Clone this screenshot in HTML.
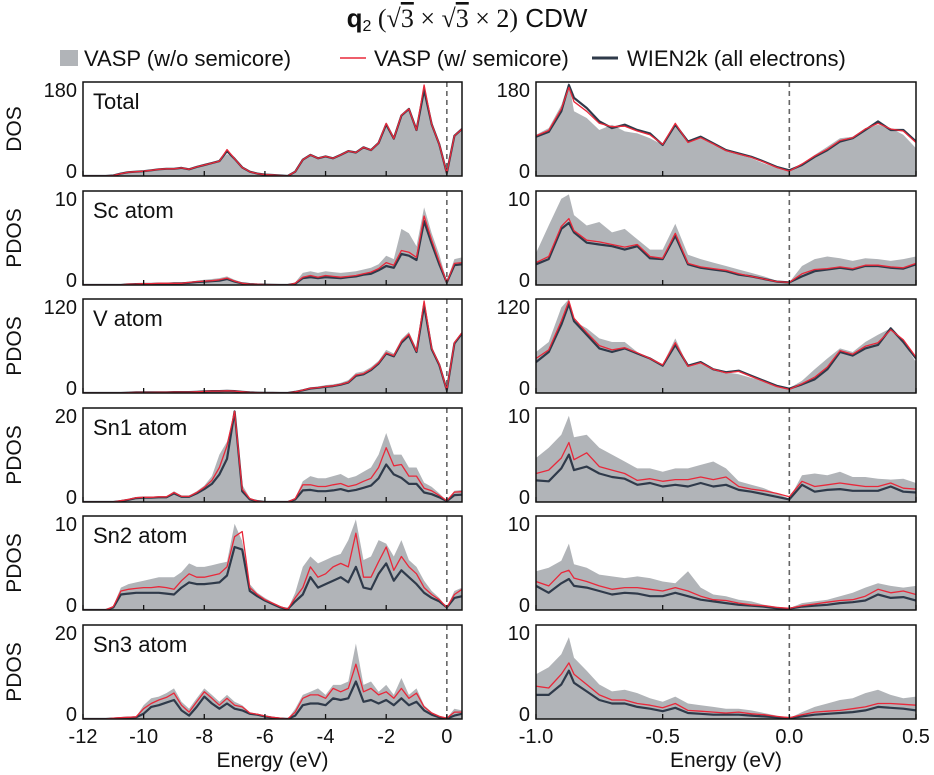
<!DOCTYPE html>
<html><head><meta charset="utf-8"><style>
html,body{margin:0;padding:0;background:#fff;}
svg{display:block;font-family:"Liberation Sans",Arial,sans-serif;}
</style></head><body>
<svg id="chart" width="934" height="775" viewBox="0 0 934 775" xmlns="http://www.w3.org/2000/svg">
<g>
<text x="467" y="27" text-anchor="middle" font-size="26" fill="#111"><tspan font-weight="bold">q</tspan><tspan font-size="16" dy="4">2</tspan><tspan dy="-4" font-family="Liberation Serif,serif"> (√</tspan><tspan font-family="Liberation Serif,serif" text-decoration="overline">3</tspan><tspan font-family="Liberation Serif,serif"> × √</tspan><tspan font-family="Liberation Serif,serif" text-decoration="overline">3</tspan><tspan font-family="Liberation Serif,serif"> × 2)</tspan> CDW</text>
</g>
<g>
<g><rect x="60" y="50" width="18" height="16" fill="#b1b4b8"/><text x="84" y="66" font-size="22" fill="#111">VASP (w/o semicore)</text></g>
<g><line x1="340" y1="58" x2="366" y2="58" stroke="#e8283a" stroke-width="1.5"/><text x="374" y="66" font-size="22" fill="#111">VASP (w/ semicore)</text></g>
<g><line x1="592" y1="58" x2="618" y2="58" stroke="#2f3a4a" stroke-width="3"/><text x="627" y="66" font-size="22" fill="#111">WIEN2k (all electrons)</text></g>
</g>
<g id="panels"></g>
</svg>
<script>
// ---------- data ----------
const leftE = [-12,-11.75,-11.5,-11.25,-11,-10.75,-10.5,-10.25,-10,-9.75,-9.5,-9.25,-9,-8.75,-8.5,-8.25,-8,-7.75,-7.5,-7.25,-7,-6.75,-6.5,-6.25,-6,-5.75,-5.5,-5.25,-5,-4.75,-4.5,-4.25,-4,-3.75,-3.5,-3.25,-3,-2.75,-2.5,-2.25,-2,-1.75,-1.5,-1.25,-1,-0.75,-0.5,-0.25,0,0.25,0.5];
const rightE = [-1,-0.95,-0.9,-0.87,-0.85,-0.8,-0.75,-0.7,-0.65,-0.6,-0.55,-0.5,-0.45,-0.4,-0.35,-0.3,-0.25,-0.2,-0.15,-0.1,-0.05,0,0.05,0.1,0.15,0.2,0.25,0.3,0.35,0.4,0.45,0.5];
const leftTicks = [-12,-10,-8,-6,-4,-2,0];
const rightTicks = [-1.0,-0.5,0.0,0.5];
const rowLabels = ["Total","Sc atom","V atom","Sn1 atom","Sn2 atom","Sn3 atom"];
const rowAxisTitles = ["DOS","PDOS","PDOS","PDOS","PDOS","PDOS"];
const leftYTicks = [180,10,120,20,10,20];
const rightYTicks = [180,10,120,10,10,10];

const totLGray = [0,0,0,0,1,6,8,9,11,13,14,15,16,18,14,20,24,28,32,46,38,20,10,5,4,2,1,0,10,35,45,38,42,38,45,52,50,60,55,70,105,80,125,140,100,170,110,70,8,85,95];
const totLRed  = [0,0,0,0,1,5,8,9,10,12,14,15,15,17,14,19,23,27,31,55,36,18,9,5,3,2,1,0,9,34,44,37,41,37,44,52,49,60,54,69,110,78,127,140,96,190,108,66,6,84,98];
const totLDark = [0,0,0,0,1,5,8,9,10,12,14,15,15,17,14,19,23,27,31,52,36,18,9,5,3,2,1,0,9,34,44,37,41,37,44,52,49,60,54,69,108,78,126,140,96,180,108,66,6,84,98];
const scLGray = [0,0,0,0,0,0,0.1,0.15,0.2,0.2,0.25,0.25,0.3,0.3,0.4,0.5,0.6,0.7,0.8,1.0,0.6,0.3,0.15,0.1,0.05,0.02,0,0,0.3,1.4,1.6,1.4,1.6,1.5,1.4,1.5,1.6,1.8,2.0,2.4,3.4,3.0,6.5,6.0,4.5,9.0,6.0,3.5,0.5,3.0,3.2];
const scLRed  = [0,0,0,0,0,0,0.1,0.12,0.15,0.15,0.2,0.2,0.2,0.2,0.3,0.4,0.45,0.5,0.6,0.8,0.45,0.2,0.1,0.08,0.04,0.02,0,0,0.2,0.9,1.1,0.9,1.1,1.0,0.9,1.0,1.1,1.3,1.5,1.9,2.6,2.3,4.0,3.8,3.2,8.0,5.2,2.7,0.3,2.5,2.6];
const scLDark = [0,0,0,0,0,0,0.08,0.1,0.12,0.12,0.15,0.15,0.18,0.18,0.25,0.35,0.4,0.45,0.5,0.7,0.4,0.18,0.1,0.06,0.03,0.01,0,0,0.15,0.8,0.9,0.8,0.9,0.85,0.8,0.9,1.0,1.2,1.3,1.7,2.2,2.0,3.6,3.4,2.9,7.4,4.8,2.4,0.3,2.3,2.4];
const vLGray = [0,0,0,0,0,0,0.5,1,1,1,1.2,1.2,1.5,1.5,1.5,2,2.5,3,3,3.5,3,2,1,0.5,0.3,0.2,0,0,2,5,8,9,11,12,14,18,28,30,36,45,60,55,75,85,62,120,65,42,5,72,82];
const vLRed  = [0,0,0,0,0,0,0.4,0.8,0.8,0.8,1,1,1.2,1.2,1.3,1.7,2.2,2.6,2.6,3,2.6,1.7,0.8,0.4,0.2,0.1,0,0,1.6,4,6.5,7.5,9,10,12,15,25,27,33,42,56,52,72,82,58,128,62,40,4,70,84];
const vLDark = [0,0,0,0,0,0,0.4,0.8,0.8,0.8,1,1,1.2,1.2,1.3,1.7,2.2,2.6,2.6,3,2.6,1.7,0.8,0.4,0.2,0.1,0,0,1.5,3.8,6.2,7.2,8.6,9.6,11.5,14.5,24,26,32,41,55,51,70,80,57,122,61,39,4,69,83];
const sn1LGray = [0,0,0,0,0,0.3,0.6,1.0,1.2,1.2,1.3,1.3,2.5,1.5,1.5,2.5,3.8,6,11,14,21,4,1,0.3,0,0,0,0,1,4.8,6,5.5,5.5,6,6.5,5.5,6,7,8,11,16,11,11,8,8,4.5,3.5,2,0.3,2.6,2.8];
const sn1LRed  = [0,0,0,0,0,0.3,0.6,1.0,1.1,1.1,1.2,1.2,2.2,1.3,1.3,2.2,3.4,5,8,13,21,3,0.8,0.2,0,0,0,0,0.8,4,4,3.6,3.6,4,4.3,3.6,4,4.8,5.5,8,12.6,8.4,8.7,6,6,3.2,2.6,1.5,0.3,2.3,2.4];
const sn1LDark = [0,0,0,0,0,0.2,0.5,0.9,1.0,1.0,1.1,1.1,2.0,1.2,1.2,2.0,3.0,4.2,6.4,10,21,2.5,0.6,0.2,0,0,0,0,0.6,2.7,2.8,2.5,2.5,2.7,3,2.5,2.8,3.3,3.8,5.5,8.7,6.4,5.6,4.2,4.2,2.2,1.8,1.1,0.2,1.6,1.7];
const sn2LGray = [0,0,0,0,0.5,2.6,3.0,3.2,3.4,3.6,3.8,3.8,3.8,4.4,5.4,5.0,5.0,5.2,5.4,5.6,10,8,3,2,1.4,0.9,0.5,0.1,2,5,6.2,5.4,5.8,6.2,6.5,8.1,10.5,5.8,6.2,8.1,7.7,6.2,8.1,5.8,5.0,3.4,2.2,1.4,0.3,2.2,2.6];
const sn2LRed  = [0,0,0,0,0.4,2.2,2.4,2.5,2.6,2.6,2.7,2.6,2.4,3.4,4.2,3.8,3.8,4.0,4.2,5.0,8.5,9.1,2.6,1.8,1.2,0.8,0.4,0.1,1.4,2.6,5.0,3.8,4.2,5.0,5.4,5.0,8.9,3.8,3.8,5.6,7.3,4.6,6.2,5.0,4.2,2.6,1.8,1.2,0.3,1.8,2.4];
const sn2LDark = [0,0,0,0,0.3,1.8,1.9,2.0,2.0,2.0,2.0,1.9,1.8,2.6,3.2,3.0,3.0,3.1,3.2,4.0,7.3,7.0,2.2,1.6,1.1,0.7,0.3,0.1,1.0,1.8,3.8,2.6,3.0,3.4,3.8,3.2,5.0,2.6,2.4,4.2,5.4,3.4,4.6,3.8,3.0,2.0,1.4,1.0,0.3,1.4,1.6];
const sn3LGray = [0,0,0,0,0.2,0.3,0.4,0.5,3.2,4.8,5.2,6,7.1,4,2.4,4.8,7.1,5.6,4,5.6,4,3.2,1.6,1.2,0.8,0.5,0.2,0,2.4,5.6,6.3,7.1,5.6,7.9,7.9,8.7,17.5,7.9,8.7,6.3,7.9,5.6,9.5,5.6,7.1,3.2,1.6,0.8,0.2,2.4,2.0];
const sn3LRed  = [0,0,0,0,0.2,0.3,0.4,0.5,2.4,3.6,4.4,5,6,3.2,1.6,4,6.3,4.8,3.2,4.8,3.2,2.8,1.4,1.1,0.7,0.4,0.2,0,1.6,4.8,5.6,5.6,4.8,7.1,6.3,7.1,12.7,6.3,7.1,5.6,6.3,4.8,7.1,4.8,6,2.8,1.4,0.6,0.2,1.6,1.6];
const sn3LDark = [0,0,0,0,0.1,0.2,0.3,0.4,1.2,2.8,3.2,3.8,4.4,2,0.8,2.8,5.2,3.6,2.4,3.6,2.4,2,1.2,1,0.6,0.3,0.1,0,0.8,3.2,3.6,3.6,3.2,4.8,4.4,4.8,8.7,4,4.4,3.6,4.4,3.2,4.8,3.2,4,2,1,0.4,0.1,0.8,1.2];

const totRGray = [86,100,148,197,135,121,96,107,93,89,79,65,107,72,82,65,54,47,37,26,17,12,26,44,61,79,82,100,107,100,86,58];
const totRRed  = [84,95,140,185,155,135,110,103,104,94,86,66,110,70,80,67,53,46,39,29,18,10,25,42,56,74,80,98,110,98,94,70];
const totRDark = [82,92,135,190,163,142,114,100,107,96,89,65,107,72,82,68,54,47,40,30,19,12,23,40,54,72,79,96,114,96,96,72];
const scRGray = [3.7,6.9,10,10.5,8.1,6.9,7.3,6.1,6.5,5.3,4.1,4.1,7.1,3.5,3.0,2.6,2.2,1.8,1.4,1.0,0.5,0.3,2.2,3.0,3.3,3.1,2.8,3.1,3.0,2.8,3.0,3.3];
const scRRed  = [2.6,3.3,6.8,7.7,6.3,5.2,5.0,4.7,4.4,4.7,3.3,3.1,6.0,2.5,2.1,1.9,1.7,1.3,1.0,0.7,0.4,0.3,1.3,1.8,1.9,2.1,1.9,2.3,2.3,2.1,2.0,2.5];
const scRDark = [2.4,3.0,6.5,7.2,6.1,4.9,4.7,4.5,4.1,4.5,3.1,3.0,5.7,2.4,2.0,1.8,1.6,1.2,1.0,0.7,0.4,0.3,1.0,1.6,1.8,2.0,1.8,2.2,2.2,2.0,1.9,2.4];
const vRGray = [57,71,119,131,100,90,76,71,71,57,48,40,76,38,43,33,29,26,21,17,10,7,17,33,48,62,57,71,81,90,71,43];
const vRRed  = [48,60,100,128,104,84,66,60,63,56,48,39,70,37,42,33,28,30,23,16,9,5,13,22,36,59,54,65,70,88,74,50];
const vRDark = [43,57,95,124,100,81,62,57,62,55,48,38,67,38,43,33,29,31,24,17,10,6,12,19,33,57,52,62,67,90,71,48];
const sn1RGray = [5.1,6.3,7.8,10,7.5,7.8,6.3,5.5,4.7,3.9,3.9,3.5,3.9,3.9,4.3,4.7,3.9,2.4,2.0,1.6,1.0,0.4,3.1,3.3,3.1,3.5,2.9,2.9,2.7,2.6,2.7,2.2];
const sn1RRed  = [3.3,3.7,5.1,6.9,4.9,5.7,4.1,3.7,3.3,2.5,2.7,2.4,2.6,2.6,2.9,2.6,2.9,1.8,1.5,1.3,1.0,0.6,2.4,1.8,2.0,2.2,2.0,1.8,1.8,2.2,1.6,1.5];
const sn1RDark = [2.5,2.4,3.9,5.5,3.7,4.1,3.3,2.9,2.7,2.0,2.2,1.8,2.0,1.8,2.2,1.8,2.0,1.4,1.2,0.9,0.6,0.3,2.0,1.2,1.4,1.5,1.3,1.3,1.3,1.8,1.2,1.1];
const sn2RGray = [4.5,4.9,5.7,7.7,5.3,4.9,4.1,3.9,3.7,3.9,3.7,3.3,3.1,4.5,2.6,1.8,1.6,1.2,1.0,0.6,0.4,0.2,0.8,1.0,1.2,1.6,2.0,2.6,3.1,2.8,2.6,2.8];
const sn2RRed  = [3.3,2.8,4.3,4.6,3.7,3.3,2.8,2.4,2.6,2.6,2.4,2.2,2.6,2.2,1.6,1.2,1.1,0.8,0.6,0.5,0.3,0.2,0.5,0.7,0.9,1.1,1.2,1.6,2.4,2.0,2.2,1.8];
const sn2RDark = [2.8,2.0,3.1,3.6,2.8,2.6,2.2,1.8,2.0,1.9,1.6,1.6,2.0,1.6,1.2,1.0,0.8,0.6,0.5,0.4,0.2,0.15,0.4,0.5,0.6,0.8,0.9,1.1,1.8,1.4,1.5,1.1];
const sn3RGray = [5.2,6.0,7.5,9.5,7.1,5.6,4.0,3.2,3.4,3.0,2.4,2.0,2.6,1.8,1.6,1.4,1.2,1.2,1.0,0.7,0.4,0.1,0.8,1.4,1.8,2.2,2.4,3.0,3.4,2.8,2.4,2.6];
const sn3RRed  = [3.8,3.6,5.2,6.5,5.2,4.0,2.8,2.2,2.2,1.8,1.6,1.3,1.8,1.0,0.9,0.8,0.7,0.8,0.6,0.5,0.3,0.15,0.5,0.8,0.9,1.0,1.2,1.4,1.8,1.8,1.7,1.6];
const sn3RDark = [2.8,2.8,4.0,5.6,4.2,3.2,2.2,1.8,1.8,1.4,1.2,0.9,1.3,0.7,0.6,0.5,0.5,0.5,0.4,0.3,0.2,0.1,0.3,0.5,0.6,0.7,0.8,1.0,1.4,1.3,1.2,1.0];

// ---------- drawing ----------
const NS = "http://www.w3.org/2000/svg";
const root = document.getElementById("panels");
function mk(tag, attrs, parent){ const e=document.createElementNS(NS,tag); for(const k in attrs) e.setAttribute(k,attrs[k]); (parent||root).appendChild(e); return e; }

const leftSeries = [[totLGray,totLRed,totLDark],[scLGray,scLRed,scLDark],[vLGray,vLRed,vLDark],[sn1LGray,sn1LRed,sn1LDark],[sn2LGray,sn2LRed,sn2LDark],[sn3LGray,sn3LRed,sn3LDark]];
const rightSeries = [[totRGray,totRRed,totRDark],[scRGray,scRRed,scRDark],[vRGray,vRRed,vRDark],[sn1RGray,sn1RRed,sn1RDark],[sn2RGray,sn2RRed,sn2RDark],[sn3RGray,sn3RRed,sn3RDark]];

const rowTop = [82,191,299,408,516,625];
const PH = 94;
const cols = [
  {x0:83, x1:462, emin:-12, emax:0.5, E:leftE, series:leftSeries, yt:leftYTicks, ticks:leftTicks, side:"left"},
  {x0:536, x1:916, emin:-1, emax:0.5, E:rightE, series:rightSeries, yt:rightYTicks, ticks:rightTicks, side:"right"}
];

cols.forEach((c,ci)=>{
  const xs = e => c.x0 + (e - c.emin)/(c.emax - c.emin)*(c.x1 - c.x0);
  rowTop.forEach((top,ri)=>{
    const bot = top + PH;
    const ymax = c.yt[ri]*1.09;
    const ys = v => bot - Math.min(v, ymax)/ymax*PH;
    const g = mk("g",{});
    
    
    const cid = "clip"+ci+"_"+ri;
    const cp = mk("clipPath",{id:cid},g); mk("rect",{x:c.x0,y:top,width:c.x1-c.x0,height:PH},cp);
    const data = c.series[ri];
    let d = "M"+xs(c.E[0])+","+bot;
    c.E.forEach((e,i)=>{ d += " L"+xs(e).toFixed(1)+","+ys(data[0][i]).toFixed(1); });
    d += " L"+xs(c.E[c.E.length-1])+","+bot+" Z";
    const fill = mk("path",{d:d,fill:"#b1b4b8","clip-path":"url(#"+cid+")"},g);
    
    
    const lineDefs = [[2,"#2f3a4a",2.2,"series-wien2k"],[1,"#e8283a",1.3,"series-vasp-w-semicore"]];
    lineDefs.forEach(ld=>{
      let p = "";
      c.E.forEach((e,i)=>{ p += (i?" L":"M")+xs(e).toFixed(1)+","+ys(data[ld[0]][i]).toFixed(1); });
      const pl = mk("path",{d:p,fill:"none",stroke:ld[1],"stroke-width":ld[2],"stroke-linejoin":"round","clip-path":"url(#"+cid+")"},g);
      
      
    });
    const fl = mk("line",{x1:xs(0),x2:xs(0),y1:top,y2:bot,stroke:"#666","stroke-width":1.6,"stroke-dasharray":"5,4"},g);
    
    
    const fr = mk("rect",{x:c.x0,y:top,width:c.x1-c.x0,height:PH,fill:"none",stroke:"#111","stroke-width":1.5},g);
    
    
    c.ticks.forEach(t=>{ mk("line",{x1:xs(t),x2:xs(t),y1:bot,y2:bot-5,stroke:"#111","stroke-width":1.3},g); });
    const yl1 = mk("text",{x:c.x0-6,y:ys(c.yt[ri])+7,"text-anchor":"end","font-size":20,fill:"#111"},g);
    yl1.textContent = c.yt[ri];
    
    
    const yl0 = mk("text",{x:c.x0-6,y:bot+2,"text-anchor":"end","font-size":20,fill:"#111"},g);
    yl0.textContent = "0";
    
    
    if(ci===0){
      const lab = mk("text",{x:c.x0+10,y:top+27,"font-size":22,fill:"#111"},g);
      lab.textContent = rowLabels[ri];
      
      
      const at = mk("text",{x:0,y:0,"font-size":21,fill:"#111","text-anchor":"middle",transform:"translate(21,"+(top+PH/2)+") rotate(-90)"},g);
      at.textContent = rowAxisTitles[ri];
      
      
    }
    if(ri===rowTop.length-1){
      c.ticks.forEach(t=>{
        const tl = mk("text",{x:xs(t),y:bot+24,"text-anchor":"middle","font-size":20,fill:"#111"},g);
        tl.textContent = (c.side==="left" ? String(t) : t.toFixed(1));
        
        
      });
      const xt = mk("text",{x:(c.x0+c.x1)/2,y:bot+48,"text-anchor":"middle","font-size":21,fill:"#111"},g);
      xt.textContent = "Energy (eV)";
      
      
    }
  });
});
</script>
</body></html>
